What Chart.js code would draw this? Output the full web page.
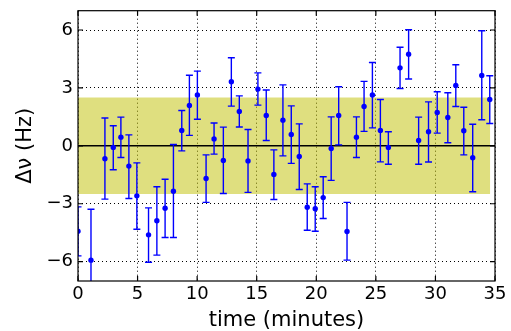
<!DOCTYPE html>
<html>
<head>
<meta charset="utf-8">
<script src="https://cdn.jsdelivr.net/npm/chart.js@4/dist/chart.umd.min.js"></script>
<style>
html, body { margin: 0; padding: 0; background: #fff; }
</style>
</head>
<body>
<canvas id="chart" width="511" height="331"></canvas>
<script>
// time (minutes), measured shift and the ends of each error bar
let times = [0, 1.09, 2.26, 2.96, 3.6, 4.27, 4.94, 5.92, 6.62, 7.31, 8.01, 8.71, 9.35, 10.02, 10.75, 11.42,
    12.2, 12.87, 13.54, 14.27, 15.1, 15.8, 16.44, 17.2, 17.9, 18.57, 19.24, 19.91, 20.58, 21.25, 21.88, 22.58,
    23.37, 24.01, 24.71, 25.38, 26.05, 27.03, 27.75, 28.59, 29.42, 30.15, 31.04, 31.71, 32.38, 33.13, 33.89, 34.56];
let deltaNu = [-4.42, -5.92, -0.67, -0.08, 0.45, -1.05, -2.59, -4.61, -3.88, -3.23, -2.35, 0.8, 2.09, 2.64, -1.69, 0.36,
    -0.76, 3.32, 1.78, -0.78, 2.94, 1.57, -1.48, 1.33, 0.59, -0.55, -3.18, -3.26, -2.68, -0.14, 1.57, -4.44,
    0.45, 2.04, 2.63, 0.8, -0.08, 4.04, 4.75, 0.28, 0.73, 1.73, 1.47, 3.13, 0.78, -0.62, 3.65, 2.4];
let errHigh = [-3.16, -3.28, 1.44, 1.04, 1.49, 0.57, -0.88, -3.21, -2.12, -1.73, 0.07, 1.83, 3.66, 3.87, -0.47, 1.18,
    0.97, 4.56, 2.59, 0.85, 3.78, 2.89, -0.21, 3.16, 2.07, 1.14, -1.97, -2.12, -1.6, 1.5, 3.06, -2.93,
    1.5, 3.34, 4.32, 2.4, 0.73, 5.11, 6.01, 1.49, 2.28, 2.8, 2.75, 4.2, 2.0, 1.12, 5.96, 3.63];
let errLow = [-5.7, -8.56, -2.76, -1.24, -0.6, -2.73, -4.32, -6.03, -5.66, -4.75, -4.75, -0.26, 0.54, 1.38, -2.93, -0.43,
    -2.47, 2.06, 0.98, -2.41, 2.11, 0.28, -2.78, -0.52, -0.91, -2.26, -4.37, -4.42, -3.76, -1.79, 0.05, -5.92,
    -0.6, 0.75, 0.93, -0.83, -0.95, 2.97, 3.46, -0.95, -0.84, 0.66, 0.16, 2.04, -0.47, -2.38, 1.35, 1.16];

let bandX = [0, 34.6];
let bandLevel = 2.5;
let xTicks = [0, 5, 10, 15, 20, 25, 30, 35];
let yTicks = [-6, -3, 0, 3, 6];

Chart.defaults.font.family = '"DejaVu Sans", sans-serif';
Chart.defaults.color = '#000';

let errorBars = {
    id: 'errorBars',
    afterDatasetDraw(chart, args) {
        if (args.index !== 1) return;
        let ctx = chart.ctx, xs = chart.scales.x, ys = chart.scales.y, area = chart.chartArea;
        ctx.save();
        ctx.beginPath();
        ctx.rect(area.left, area.top, area.right - area.left, area.bottom - area.top);
        ctx.clip();
        ctx.strokeStyle = 'rgb(0,0,255)';
        ctx.lineWidth = 1.4;
        for (let i = 0; i < times.length; i++) {
            let px = xs.getPixelForValue(times[i]);
            let top = ys.getPixelForValue(errHigh[i]);
            let bot = ys.getPixelForValue(errLow[i]);
            ctx.beginPath();
            ctx.moveTo(px, top);
            ctx.lineTo(px, bot);
            ctx.moveTo(px - 3.5, top);
            ctx.lineTo(px + 3.5, top);
            ctx.moveTo(px - 3.5, bot);
            ctx.lineTo(px + 3.5, bot);
            ctx.stroke();
        }
        ctx.restore();
    },
    afterDraw(chart) {
        let ctx = chart.ctx, xs = chart.scales.x, ys = chart.scales.y, a = chart.chartArea;
        ctx.save();
        ctx.strokeStyle = '#000';
        ctx.lineWidth = 1.2;
        ctx.strokeRect(a.left, a.top, a.right - a.left, a.bottom - a.top);
        // ticks point inward on all four sides
        ctx.beginPath();
        xTicks.forEach(function (v) {
            let px = xs.getPixelForValue(v);
            ctx.moveTo(px, a.bottom);
            ctx.lineTo(px, a.bottom - 5);
            ctx.moveTo(px, a.top);
            ctx.lineTo(px, a.top + 5);
        });
        yTicks.forEach(function (v) {
            let py = ys.getPixelForValue(v);
            ctx.moveTo(a.left, py);
            ctx.lineTo(a.left + 5, py);
            ctx.moveTo(a.right, py);
            ctx.lineTo(a.right - 5, py);
        });
        ctx.stroke();
        ctx.restore();
    }
};

let chart = new Chart(document.getElementById('chart'), {
    type: 'line',
    data: {
        datasets: [{
            label: 'measurements',
            data: times.map((t, i) => ({x: t, y: deltaNu[i]})),
            showLine: false,
            pointRadius: 2.7,
            pointBackgroundColor: 'rgb(0,0,255)',
            pointBorderColor: 'rgb(0,0,255)',
            pointBorderWidth: 0,
            order: 0
        }, {
            label: 'zero',
            data: [{x: 0, y: 0}, {x: 35, y: 0}],
            borderColor: '#000',
            borderWidth: 1.5,
            pointRadius: 0,
            fill: false,
            order: 1
        }, {
            label: 'band',
            data: bandX.map(x => ({x: x, y: bandLevel})),
            borderWidth: 0,
            borderColor: 'transparent',
            backgroundColor: 'rgba(191,191,0,0.5)',
            pointRadius: 0,
            fill: {value: -bandLevel},
            order: 2
        }]
    },
    options: {
        responsive: false,
        animation: false,
        layout: {padding: {top: 10.7, right: 16, left: 0, bottom: 0}},
        plugins: {
            legend: {display: false},
            tooltip: {enabled: false}
        },
        scales: {
            x: {
                type: 'linear',
                min: 0,
                max: 35,
                afterBuildTicks: s => { s.ticks = xTicks.map(v => ({value: v})); },
                afterFit: s => { s.height = 50; s.paddingLeft = 0; s.paddingRight = 0; },
                grid: {color: '#000', lineWidth: 1, drawTicks: false},
                border: {display: false, dash: [1, 3]},
                ticks: {font: {size: 18}, padding: 3, maxRotation: 0},
                title: {display: true, text: 'time (minutes)', font: {size: 21}, padding: {top: 0, bottom: -2}}
            },
            y: {
                type: 'linear',
                min: -7,
                max: 7,
                afterBuildTicks: s => { s.ticks = yTicks.map(v => ({value: v})); },
                afterFit: s => { s.width = 78; s.paddingTop = 0; s.paddingBottom = 0; },
                grid: {color: '#000', lineWidth: 1, drawTicks: false},
                border: {display: false, dash: [1, 3]},
                ticks: {
                    font: {size: 18},
                    padding: 5,
                    callback: v => String(v).replace('-', '\u2212')
                },
                title: {display: true, text: '\u0394\u03bd (Hz)', font: {size: 21}, padding: {top: 13, bottom: 0}}
            }
        }
    },
    plugins: [errorBars]
});
</script>
</body>
</html>
